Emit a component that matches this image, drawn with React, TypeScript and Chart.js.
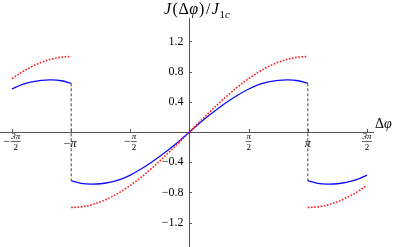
import { useEffect, useRef } from 'react';
import { Chart, registerables } from 'chart.js';

Chart.register(...registerables);

// Phase values (radians)
const centralPhase = [
  -3.1416, -2.8798, -2.618, -2.3562, -2.0944, -1.8326, -1.5708, -1.309, -1.0472, -0.7854, -0.5236, -0.2618,
  0, 0.2618, 0.5236, 0.7854, 1.0472, 1.309, 1.5708, 1.8326, 2.0944, 2.3562, 2.618, 2.8798, 3.1416,
];
const centralBlue = [
  -0.645, -0.679, -0.69, -0.685, -0.665, -0.627, -0.57, -0.497, -0.414, -0.322, -0.222, -0.115,
  0, 0.115, 0.222, 0.322, 0.414, 0.497, 0.57, 0.627, 0.665, 0.685, 0.69, 0.679, 0.645,
];
const centralRed = [
  -1.0, -0.991, -0.966, -0.924, -0.866, -0.793, -0.707, -0.609, -0.5, -0.383, -0.259, -0.131,
  0, 0.131, 0.259, 0.383, 0.5, 0.609, 0.707, 0.793, 0.866, 0.924, 0.966, 0.991, 1.0,
];
const leftPhase = [-4.7124, -4.4506, -4.1888, -3.927, -3.6652, -3.4034, -3.1416];
const leftBlue = [0.57, 0.627, 0.665, 0.685, 0.69, 0.679, 0.645];
const leftRed = [0.707, 0.793, 0.866, 0.924, 0.966, 0.991, 1.0];
const rightPhase = [3.1416, 3.4034, 3.6652, 3.927, 4.1888, 4.4506, 4.7124];
const rightBlue = [-0.645, -0.679, -0.69, -0.685, -0.665, -0.627, -0.57];
const rightRed = [-1.0, -0.991, -0.966, -0.924, -0.866, -0.793, -0.707];
const jumpPhase = [-3.1416, 3.1416];
const jumpTop = [0.645, 0.645];
const jumpBottom = [-0.645, -0.645];

const xTickValues = [-4.7124, -3.1416, -1.5708, 1.5708, 3.1416, 4.7124];
const xTickSigns = ['\u2212', '\u2212', '\u2212', '', '', ''];
const xTickNumerators = ['3\u03c0', '\u03c0', '\u03c0', '\u03c0', '\u03c0', '3\u03c0'];
const xTickDenominators = ['2', '', '2', '2', '', '2'];
const yTickValues = [-1.2, -0.8, -0.4, 0.4, 0.8, 1.2];
const yTickLabels = ['\u22121.2', '\u22120.8', '\u22120.4', '0.4', '0.8', '1.2'];

const zip = (xs: number[], ys: number[]) => xs.map((x, i) => ({ x, y: ys[i] }));

const SERIF = '"Liberation Serif", "DejaVu Serif", serif';
const AXIS = '#555';
const TEXT = '#000';

const annotPlugin = {
  id: 'annot',
  afterDraw(chart: any) {
    const { ctx } = chart;
    const xs = chart.scales.x;
    const ys = chart.scales.y;
    const ox = xs.getPixelForValue(0);
    const oy = ys.getPixelForValue(0);
    ctx.save();
    ctx.strokeStyle = AXIS;
    ctx.lineWidth = 1;
    xTickValues.forEach((v) => {
      const px = Math.round(xs.getPixelForValue(v)) + 0.5;
      ctx.beginPath();
      ctx.moveTo(px, Math.round(oy));
      ctx.lineTo(px, Math.round(oy) - 3);
      ctx.stroke();
    });
    yTickValues.forEach((v) => {
      const py = Math.round(ys.getPixelForValue(v)) + 0.5;
      ctx.beginPath();
      ctx.moveTo(Math.round(ox), py);
      ctx.lineTo(Math.round(ox) + 3, py);
      ctx.stroke();
    });

    ctx.fillStyle = TEXT;
    ctx.font = `12px ${SERIF}`;
    ctx.textAlign = 'right';
    ctx.textBaseline = 'middle';
    yTickValues.forEach((v, i) => {
      ctx.fillText(yTickLabels[i], ox - 6, ys.getPixelForValue(v));
    });

    xTickValues.forEach((v, i) => {
      const px = xs.getPixelForValue(v);
      const sign = xTickSigns[i];
      const num = xTickNumerators[i];
      const den = xTickDenominators[i];
      ctx.textBaseline = 'middle';
      if (!den) {
        ctx.font = `12px ${SERIF}`;
        const sw = sign ? ctx.measureText(sign).width : 0;
        ctx.font = `italic 12px ${SERIF}`;
        const pw = ctx.measureText(num).width;
        const st = px - (sw + pw) / 2 + (sign ? -1 : 0);
        ctx.textAlign = 'left';
        if (sign) {
          ctx.font = `12px ${SERIF}`;
          ctx.fillText(sign, st, oy + 12);
        }
        ctx.font = `italic 12px ${SERIF}`;
        ctx.fillText(num, st + sw, oy + 12);
        return;
      }
      ctx.font = `12px ${SERIF}`;
      const signW = sign ? ctx.measureText(sign).width + 0.5 : 0;
      ctx.font = `italic 9px ${SERIF}`;
      const fracW = Math.max(ctx.measureText(num).width, ctx.measureText(den).width) + 1;
      const start = px - (signW + fracW) / 2;
      if (sign) {
        ctx.font = `12px ${SERIF}`;
        ctx.textAlign = 'left';
        ctx.fillText(sign, start, oy + 9.5);
      }
      const fx = start + signW + fracW / 2;
      ctx.font = `italic 9px ${SERIF}`;
      ctx.textAlign = 'center';
      ctx.fillText(num, fx, oy + 5);
      ctx.font = `9px ${SERIF}`;
      ctx.fillText(den, fx, oy + 15.5);
      ctx.beginPath();
      ctx.strokeStyle = TEXT;
      ctx.lineWidth = 0.6;
      ctx.moveTo(fx - fracW / 2, oy + 9.5);
      ctx.lineTo(fx + fracW / 2, oy + 9.5);
      ctx.stroke();
    });

    // y-axis title
    ctx.textAlign = 'left';
    ctx.textBaseline = 'alphabetic';
    const big = 16;
    const small = 11;
    const parts: [string, string, number, number][] = [
      ['J', `italic ${big}px ${SERIF}`, 0, 1.5],
      ['(', `${big}px ${SERIF}`, 0, 0.5],
      ['\u0394', `${big}px ${SERIF}`, 0, 0.5],
      ['\u03c6', `italic ${big}px ${SERIF}`, 0, 1],
      [')', `${big}px ${SERIF}`, 0, 1.5],
      ['/', `${big}px ${SERIF}`, 0, 1.5],
      ['J', `italic ${big}px ${SERIF}`, 0, 0.5],
      ['1', `${small}px ${SERIF}`, 3.5, 0],
      ['c', `italic ${small}px ${SERIF}`, 3.5, 0],
    ];
    let tx = 164;
    const by = 14;
    parts.forEach(([t, f, dy, after]) => {
      ctx.font = f;
      ctx.fillText(t, tx, by + dy);
      tx += ctx.measureText(t).width + after;
    });

    tx = 375;
    const by2 = 128;
    ctx.font = `14px ${SERIF}`;
    ctx.fillText('\u0394', tx, by2);
    tx += ctx.measureText('\u0394').width;
    ctx.font = `italic 14px ${SERIF}`;
    ctx.fillText('\u03c6', tx, by2);
    ctx.restore();
  },
};

export default function App() {
  const ref = useRef<HTMLCanvasElement | null>(null);
  useEffect(() => {
    if (!ref.current) return;
    const red = { borderColor: '#ff1a1a', borderWidth: 1.6, borderDash: [1.6, 1.6], pointRadius: 0, tension: 0.35, fill: false };
    const blue = { borderColor: '#0a0aff', borderWidth: 1.3, pointRadius: 0, tension: 0.35, fill: false };
    const jump = { borderColor: '#444', borderWidth: 1, borderDash: [3, 2], pointRadius: 0, tension: 0, fill: false };
    const chart = new Chart(ref.current, {
      type: 'line',
      data: {
        datasets: [
          { ...red, data: zip(centralPhase, centralRed) },
          { ...red, data: zip(leftPhase, leftRed) },
          { ...red, data: zip(rightPhase, rightRed) },
          { ...blue, data: zip(centralPhase, centralBlue) },
          { ...blue, data: zip(leftPhase, leftBlue) },
          { ...blue, data: zip(rightPhase, rightBlue) },
          { ...jump, data: [{ x: jumpPhase[0], y: jumpTop[0] }, { x: jumpPhase[0], y: jumpBottom[0] }] },
          { ...jump, data: [{ x: jumpPhase[1], y: jumpTop[1] }, { x: jumpPhase[1], y: jumpBottom[1] }] },
        ] as any,
      },
      options: {
        animation: false,
        responsive: true,
        maintainAspectRatio: false,
        layout: { padding: { left: 0, right: 22, top: 18, bottom: 0 } },
        plugins: { legend: { display: false }, tooltip: { enabled: false } },
        scales: {
          x: {
            type: 'linear',
            position: { y: 0 } as any,
            min: -5.031,
            max: 4.872,
            grid: { display: false },
            border: { display: true, color: AXIS, width: 1 },
            ticks: { display: false },
          },
          y: {
            type: 'linear',
            position: { x: 0 } as any,
            min: -1.523,
            max: 1.51,
            grid: { display: false },
            border: { display: true, color: AXIS, width: 1 },
            ticks: { display: false },
          },
        },
      },
      plugins: [annotPlugin],
    });
    return () => chart.destroy();
  }, []);
  return (
    <div style={{ position: 'absolute', left: 0, top: 0, width: 395, height: 247 }}>
      <canvas ref={ref} />
    </div>
  );
}
